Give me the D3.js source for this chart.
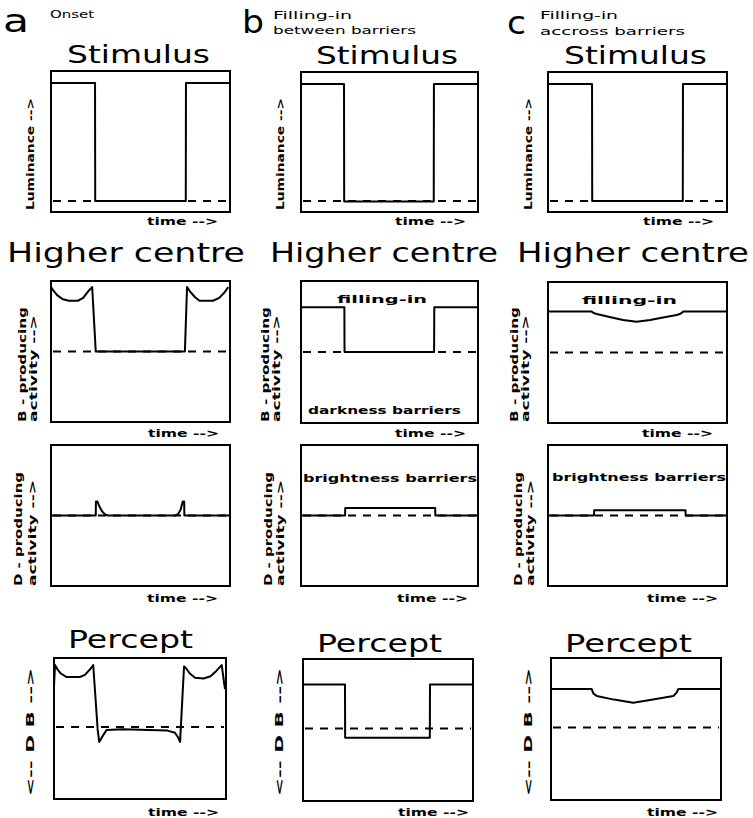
<!DOCTYPE html>
<html>
<head>
<meta charset="utf-8">
<script src="https://cdn.jsdelivr.net/npm/d3@7"></script>
<style>
  body { margin: 0; background: #fff; }
  text { fill: #000; }
</style>
</head>
<body>
<div id="chart"></div>
<script>
// ---- data (time 0..100, level 0..1) ----
const timeDomain = [0, 100];
const levelDomain = [0, 1];

// Stimulus luminance
const stimulusOnset = [[0, 0.915], [24.6, 0.915], [24.7, 0.078], [75.3, 0.078], [75.4, 0.915], [100, 0.915]];
const stimulusBetween = [[0, 0.914], [24.3, 0.914], [24.4, 0.075], [75.0, 0.075], [75.1, 0.914], [100, 0.914]];
const stimulusAcross = [[0, 0.914], [24.6, 0.914], [24.7, 0.079], [75.3, 0.079], [75.4, 0.914], [100, 0.914]];
const stimulusRef = 0.078;

// B-producing activity
const bOnset = [
  [0, 0.957], [1.5, 0.93], [3.4, 0.9], [6.7, 0.87], [10, 0.86], [15, 0.86], [18, 0.88], [21, 0.93], [23, 0.957],
  [25, 0.5], [74.8, 0.5], [76, 0.957], [78, 0.92], [80.5, 0.885], [83, 0.86], [90.5, 0.86], [94, 0.88],
  [97, 0.92], [99, 0.957]
];
const bBetween = [[0, 0.815], [24.5, 0.815], [24.6, 0.5], [75.2, 0.5], [75.3, 0.815], [100, 0.815]];
const bAcross = [
  [0, 0.79], [24.4, 0.79], [25.5, 0.78], [27.2, 0.773], [35, 0.75], [42, 0.73], [49.5, 0.718],
  [57, 0.73], [65, 0.75], [71.9, 0.766], [74, 0.775], [75.6, 0.79], [100, 0.79]
];
const bRef = 0.5;

// D-producing activity
const dOnset = [
  [0, 0.5], [25.0, 0.5], [25.1, 0.6], [25.9, 0.6], [27, 0.565], [28.5, 0.53], [30, 0.51], [31.8, 0.5],
  [69.3, 0.5], [71, 0.51], [72.4, 0.54], [73.6, 0.6], [74.4, 0.6], [74.5, 0.5], [100, 0.5]
];
const dBetween = [[0, 0.5], [24.9, 0.5], [25.0, 0.553], [75.8, 0.553], [75.9, 0.5], [100, 0.5]];
const dAcross = [[0, 0.5], [25.7, 0.5], [25.8, 0.537], [76.8, 0.537], [76.9, 0.5], [100, 0.5]];
const dRef = 0.5;

// Percept
const perceptOnset = [
  [0, 0.8], [0.6, 0.95], [2, 0.92], [4, 0.89], [7.4, 0.865], [15, 0.865], [18, 0.88], [21, 0.92], [22.8, 0.95],
  [25.4, 0.49], [26.3, 0.405], [28.5, 0.45], [30.6, 0.49], [40, 0.495], [55, 0.49], [66, 0.485], [70.3, 0.47],
  [72, 0.44], [73.3, 0.405], [75.6, 0.94], [76.2, 0.936], [79, 0.89], [82, 0.86], [87, 0.855], [91, 0.87],
  [94.5, 0.91], [97.5, 0.95], [99.4, 0.78]
];
const perceptBetween = [[0, 0.82], [24.7, 0.82], [24.8, 0.445], [74.6, 0.445], [74.7, 0.82], [100, 0.82]];
const perceptAcross = [
  [0, 0.782], [23.9, 0.782], [24.9, 0.751], [26.9, 0.732], [37, 0.707], [48.4, 0.685],
  [60, 0.707], [72, 0.732], [73.9, 0.756], [74.9, 0.782], [100, 0.782]
];
const perceptRef = 0.51;

// text
const columnLetters = ["a", "b", "c"];
const columnCaptions = [["Onset"], ["Filling-in", "between barriers"], ["Filling-in", "accross barriers"]];
const rowTitles = ["Stimulus", "Higher centre", "Percept"];

// ---- layout ----
const width = 753, height = 818;
const font = "'DejaVu Sans', sans-serif";

const svg = d3.select("#chart").append("svg")
  .attr("width", width)
  .attr("height", height)
  .style("background", "#fff");

const panels = [
  { x: 51, y: 71, w: 179, h: 141, line: stimulusOnset, ref: stimulusRef },
  { x: 301, y: 72, w: 177, h: 140, line: stimulusBetween, ref: stimulusRef },
  { x: 548, y: 72, w: 179, h: 140, line: stimulusAcross, ref: stimulusRef },
  { x: 51, y: 281, w: 179, h: 141, line: bOnset, ref: bRef },
  { x: 301, y: 281, w: 177, h: 142, line: bBetween, ref: bRef },
  { x: 548, y: 282, w: 179, h: 141, line: bAcross, ref: bRef },
  { x: 51, y: 445, w: 179, h: 141, line: dOnset, ref: dRef },
  { x: 301, y: 445, w: 177, h: 141, line: dBetween, ref: dRef },
  { x: 548, y: 445, w: 179, h: 141, line: dAcross, ref: dRef },
  { x: 54, y: 658, w: 172, h: 141, line: perceptOnset, ref: perceptRef },
  { x: 303, y: 659, w: 170, h: 142, line: perceptBetween, ref: perceptRef },
  { x: 551, y: 658, w: 170, h: 142, line: perceptAcross, ref: perceptRef }
];

panels.forEach((p) => {
  const x = d3.scaleLinear().domain(timeDomain).range([p.x, p.x + p.w]);
  const y = d3.scaleLinear().domain(levelDomain).range([p.y + p.h, p.y]);
  const g = svg.append("g");

  g.append("rect")
    .attr("x", p.x).attr("y", p.y)
    .attr("width", p.w).attr("height", p.h)
    .attr("fill", "none").attr("stroke", "#000").attr("stroke-width", 2);

  g.append("line")
    .attr("x1", x(0) + 2).attr("x2", x(100) - 2)
    .attr("y1", y(p.ref)).attr("y2", y(p.ref))
    .attr("stroke", "#000").attr("stroke-width", 2)
    .attr("stroke-dasharray", "8,7");

  const line = d3.line().x((d) => x(d[0])).y((d) => y(d[1]));
  g.append("path")
    .datum(p.line)
    .attr("d", line)
    .attr("fill", "none")
    .attr("stroke", "#000")
    .attr("stroke-width", 2)
    .attr("stroke-linejoin", "round");
});

function label(str, x, y, size, len, opts = {}) {
  const t = svg.append("text")
    .attr("x", x).attr("y", y)
    .attr("font-family", font)
    .attr("font-size", size)
    .attr("font-weight", opts.weight || "normal")
    .text(str);
  if (len) t.attr("textLength", len).attr("lengthAdjust", "spacingAndGlyphs");
  if (opts.anchor) t.attr("text-anchor", opts.anchor);
  return t;
}

function vlabel(str, cx, bottom, size, len) {
  svg.append("text")
    .attr("transform", `translate(${cx},${bottom}) rotate(-90)`)
    .attr("font-family", font)
    .attr("font-size", size)
    .attr("font-weight", "bold")
    .attr("dominant-baseline", "central")
    .attr("textLength", len)
    .attr("lengthAdjust", "spacingAndGlyphs")
    .text(str);
}

// column letters and captions
label(columnLetters[0], 3, 32, 32, 26);
label(columnLetters[1], 242, 33, 32, 22);
label(columnLetters[2], 507, 34, 32, 19);
label(columnCaptions[0][0], 50, 18, 10, 44);
label(columnCaptions[1][0], 273, 19, 11, 79);
label(columnCaptions[1][1], 273, 34, 11, 143);
label(columnCaptions[2][0], 540, 19, 11, 78);
label(columnCaptions[2][1], 540, 35, 11, 145);

// row titles
label(rowTitles[0], 67, 63, 25, 143);
label(rowTitles[0], 316, 64, 25, 142);
label(rowTitles[0], 564, 64, 25, 143);
label(rowTitles[1], 7, 262, 27, 238);
label(rowTitles[1], 270, 262, 27, 228);
label(rowTitles[1], 517, 262, 27, 232);
label(rowTitles[2], 68, 648, 25, 125);
label(rowTitles[2], 317, 652, 25, 125);
label(rowTitles[2], 565, 652, 25, 127);

// time axis labels
const timeLabel = "time -->";
[[147, 225], [395, 225], [643, 225],
 [148, 437], [395, 437], [642, 437],
 [147, 602], [397, 602], [647, 602],
 [148, 816], [398, 816], [647, 816]].forEach(([tx, ty]) => label(timeLabel, tx, ty, 11, 71, { weight: "bold" }));

// y axis labels
[30, 280, 528].forEach((cx) => vlabel("Luminance -->", cx, 210, 11, 112));
[[22, 33], [265, 276], [514, 525]].forEach(([a, b]) => {
  vlabel("B - producing", a, 422, 11, 115);
  vlabel("activity -->", b, 422, 11, 107);
});
[[18, 32], [268, 280], [518, 530]].forEach(([a, b]) => {
  vlabel("D - producing", a, 586, 11, 114);
  vlabel("activity -->", b, 586, 11, 106);
});
[30, 279, 528].forEach((cx) => vlabel("<-- D  B -->", cx, 796, 11, 128));

// annotations inside panels
label("filling-in", 337, 303, 11, 90, { weight: "bold" });
label("filling-in", 582, 304, 11, 95, { weight: "bold" });
label("darkness barriers", 308, 414, 11, 153, { weight: "bold" });
label("brightness barriers", 303, 482, 11, 174, { weight: "bold" });
label("brightness barriers", 552, 481, 11, 174, { weight: "bold" });
</script>
</body>
</html>
